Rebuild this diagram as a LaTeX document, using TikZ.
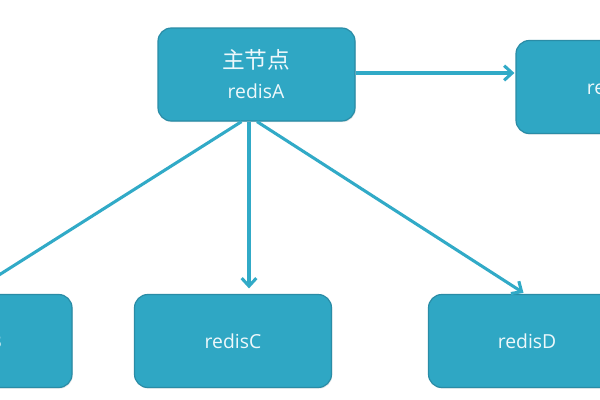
\documentclass[tikz,border=0pt]{standalone}
\usepackage{fontspec}
\setmainfont{Open Sans}
\newfontfamily\cjk{Noto Sans CJK SC}
\usetikzlibrary{arrows.meta,calc,shadows}
\definecolor{boxfill}{HTML}{2FA7C4}
\definecolor{boxline}{HTML}{2A8CA6}
\definecolor{linkc}{HTML}{31AAC7}
\definecolor{txt}{HTML}{EEF8FB}
\begin{document}
\begin{tikzpicture}[x=0.75pt,y=-0.75pt,
  box/.style={draw=boxline,line width=0.9pt,fill=boxfill,rounded corners=10pt,
    minimum width=147.75pt,minimum height=69.75pt,inner sep=0pt,text=txt,
    font=\fontsize{14.5}{17}\selectfont,
    drop shadow={opacity=0.18,shadow xshift=0.6pt,shadow yshift=-0.9pt}},
  lbl/.style={text=txt,inner sep=0pt},
  link/.style={draw=linkc,line width=2.3pt,-{Straight Barb[length=6pt,width=11pt]}}]
\useasboundingbox (0,0) rectangle (600,400);
\clip (0,0) rectangle (600,400);
\fill[white] (0,0) rectangle (600,400);
% boxes
\node[box] (A) at (256.5,74.5) {};
\node[lbl,font=\cjk\fontsize{17}{19}\selectfont] (Acn) at (256,60) {主节点};
\node[lbl,font=\fontsize{14.5}{17}\selectfont] (Aen) at (256,91) {redisA};
\node[box] (E) at (614.5,87) {redisE};
\node[box] (B) at (-26.5,341) {redisB};
\node[box] (C) at (233,341) {redisC};
\node[box] (D) at (527,341) {redisD};
% connectors
\draw[link] ($(A.east)+(0,-1.5)$) -- ($(E.west)+(-1,-14)$);
\draw[link] ($(A.south)+(-7.5,0)$) -- ($(C.north)+(16,-5.5)$);
\draw[link] ($(A.south)+(0.5,0)$) -- ($(D.north)+(-3.5,-1)$);
\draw[link] ($(A.south)+(-15,0)$) -- ($(B.north)+(3.5,-5)$);
\end{tikzpicture}
\end{document}
